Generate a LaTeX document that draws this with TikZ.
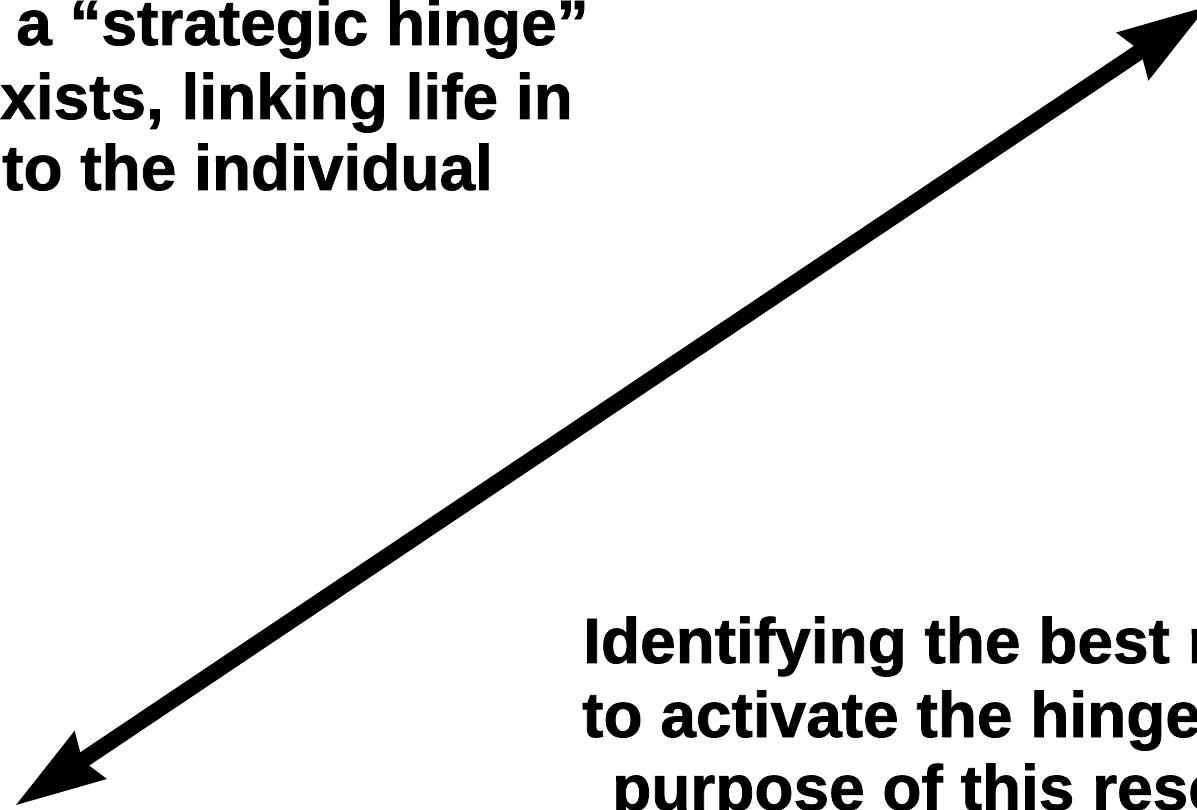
\documentclass[tikz,border=0pt]{standalone}
\usepackage{fontspec}
\newfontfamily\heavyfont{Liberation Sans Bold}[FakeBold=1.2]
\usetikzlibrary{arrows.meta}
\tikzset{
  txt/.style={anchor=base west, inner sep=0pt, font=\fontsize{64pt}{73pt}\heavyfont},
  tipshape/.style={},
  bigarrow/.style={line width=16pt, {Stealth[length=90pt,width=58pt,inset=10pt,line width=0pt]}-{Stealth[length=90pt,width=58pt,inset=10pt,line width=0pt]}}
}
\begin{document}
\begin{tikzpicture}[x=1pt,y=1pt]
\useasboundingbox (0,0) rectangle (1197,809);
% top-left text (y = 809 - baseline)
\node[txt] (t1) at (16,764) {a “strategic hinge”};
\node[txt] (t2) at (0,690) {xists, linking life in};
\node[txt] (t3) at (2,619) {to the individual};
% bottom-right text
\node[txt] (b1) at (583,146) {Identifying the best r};
\node[txt] (b2) at (582,72) {to activate the hinge};
\node[txt] (b3) at (612,-1) {purpose of this resea};
% double-headed arrow
\coordinate (lo) at (16,4);
\coordinate (hi) at (1207,802.5);
\draw[bigarrow] (lo) -- (hi);
\end{tikzpicture}
\end{document}
